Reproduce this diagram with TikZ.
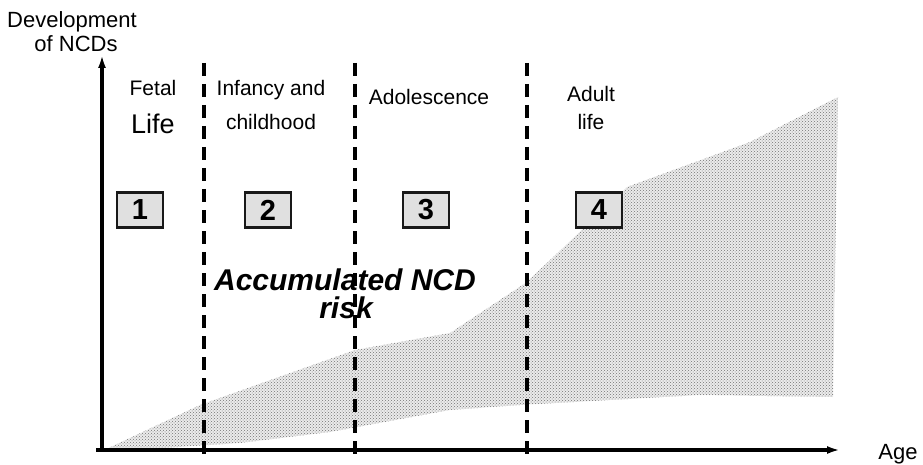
\documentclass[tikz,border=0pt]{standalone}
\usepackage{fontspec}
\setmainfont{Liberation Sans}
\usetikzlibrary{patterns,arrows.meta}
\begin{document}
\begin{tikzpicture}[x=1pt,y=-1pt,>={Latex[length=13pt,width=8pt]}]

% --- Stijldefinities ---
\tikzset{
    axisLine/.style={
        draw=black,
        line width=3.2pt
    },
    stageLine/.style={
        draw=black,
        line width=3.4pt,
        dash pattern=on 13pt off 8pt
    },
    riskArea/.style={
        preaction={fill=black!8},
        pattern=crosshatch dots,
        pattern color=black!55
    },
    stageLabel/.style={
        font=\fontsize{21}{24}\selectfont,
        anchor=base,
        inner sep=0pt
    },
    stageBox/.style={
        draw=black!90,
        line width=2.2pt,
        fill=black!12,
        minimum width=46pt,
        minimum height=35pt,
        inner sep=0pt,
        font=\bfseries\fontsize{29}{30}\selectfont
    },
    axisLabel/.style={
        font=\fontsize{22}{24}\selectfont,
        anchor=base,
        inner sep=0pt
    },
    riskLabel/.style={
        font=\bfseries\itshape\fontsize{30}{34}\selectfont,
        anchor=base,
        inner sep=0pt
    }
}

\useasboundingbox (0,0) rectangle (923,465);

% =========================================================
% Opgebouwd risico (gestippeld vlak)
% =========================================================

\fill[riskArea] (100,452) -- (200,405) -- (355,350) -- (450,333)
    -- (527,282) -- (627,187) -- (750,142) -- (838,97)
    -- (833,397) -- (700,395) -- (520,405) -- (450,410)
    -- (330,432) -- (240,443) -- cycle;

% =========================================================
% Assen
% =========================================================

\coordinate (origin) at (102,450);
\coordinate (yTip) at (102,55);
\coordinate (xStart) at (96,450);
\coordinate (xTip) at (840,450);

\draw[axisLine,->] (origin) -- (yTip);
\draw[axisLine,->] (xStart) -- (xTip);

\node[axisLabel] (yLabelA) at (72,28) {Development};
\node[axisLabel] (yLabelB) at (76,52) {of NCDs};
\node[axisLabel] (xLabel) at (898,459) {Age};

% =========================================================
% Levensfasen
% =========================================================

% Verticale scheidingslijnen
\foreach \name/\x in {fetalEnd/204, childEnd/355, adolEnd/527} {
    \coordinate (\name Top) at (\x,63);
    \coordinate (\name Bottom) at (\x,458);
    \draw[stageLine] (\name Top) -- (\name Bottom);
}

% Labels
\node[stageLabel] (fetal) at (153,96) {Fetal};
\node[stageLabel, font=\fontsize{27}{30}\selectfont] (life) at (153,134) {Life};
\node[stageLabel] (infancy) at (271,96) {Infancy and};
\node[stageLabel] (childhood) at (271,130) {childhood};
\node[stageLabel] (adolescence) at (429,105) {Adolescence};
\node[stageLabel] (adult) at (591,102) {Adult};
\node[stageLabel] (adultLife) at (591,130) {life};

% Genummerde vakjes
\foreach \n/\x in {1/140, 2/268, 3/426, 4/599} {
    \node[stageBox] (box\n) at (\x,210) {\n};
}

% Onderschrift in het vlak
\node[riskLabel] (riskA) at (345,290) {Accumulated NCD};
\node[riskLabel] (riskB) at (346,318) {risk};

\end{tikzpicture}
\end{document}
